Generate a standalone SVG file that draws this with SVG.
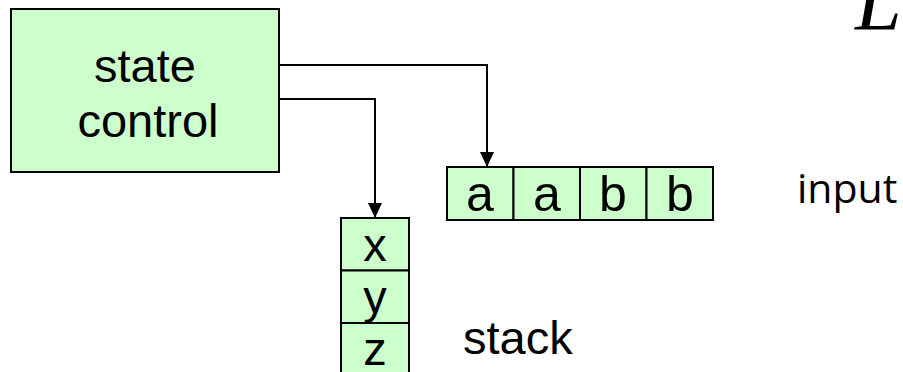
<svg xmlns="http://www.w3.org/2000/svg" width="903" height="372" viewBox="0 0 903 372">
<style>
.box{fill:#CCFFCC;stroke:#000;stroke-width:2}
.t{font-family:"Liberation Sans",Arial,sans-serif;font-size:47px;fill:#000;text-anchor:middle}
.c{font-family:"Liberation Sans",Arial,sans-serif;font-size:50px;fill:#000;text-anchor:middle}
.lbl{font-family:"Liberation Sans",Arial,sans-serif;font-size:47px;fill:#000}
.conn{fill:none;stroke:#000;stroke-width:2}
</style>
<defs>
<marker id="ah" markerWidth="15" markerHeight="14" refX="15" refY="7" orient="auto" markerUnits="userSpaceOnUse" viewBox="0 0 15 14">
<path d="M0,0 L15,7 L0,14 Z" fill="#000"/>
</marker>
</defs>
<rect width="903" height="372" fill="#fff"/>
<g id="state-control">
<rect class="box" x="11" y="9" width="268" height="163"/>
<text class="t" x="145" y="82">state</text>
<text class="t" x="148" y="137">control</text>
</g>
<g id="input-tape">
<rect class="box" x="447" y="167" width="66.5" height="53"/>
<rect class="box" x="513.5" y="167" width="66.5" height="53"/>
<rect class="box" x="580" y="167" width="66.5" height="53"/>
<rect class="box" x="646.5" y="167" width="66.5" height="53"/>
<text class="c" x="480" y="211">a</text>
<text class="c" x="547" y="211">a</text>
<text class="c" x="613" y="211">b</text>
<text class="c" x="680" y="211">b</text>
</g>
<g id="stack">
<rect class="box" x="341" y="218" width="68" height="52.5"/>
<rect class="box" x="341" y="270.5" width="68" height="52.5"/>
<rect class="box" x="341" y="323" width="68" height="55"/>
<text class="t" x="375" y="261">x</text>
<text class="t" x="375" y="313">y</text>
<text class="t" x="375" y="365">z</text>
</g>
<g id="labels">
<text class="lbl" x="463" y="354">stack</text>
<text x="797" y="203" font-family="'Open Sans','Noto Sans',sans-serif" font-size="41" fill="#000">input</text>
<text x="855" y="30" font-family="'Liberation Serif','Times New Roman',serif" font-style="italic" font-size="84" fill="#000">L</text>
</g>
<g id="connectors">
<path class="conn" d="M279,65 H487 V167" marker-end="url(#ah)"/>
<path class="conn" d="M279,99 H375 V218" marker-end="url(#ah)"/>
</g>
</svg>
